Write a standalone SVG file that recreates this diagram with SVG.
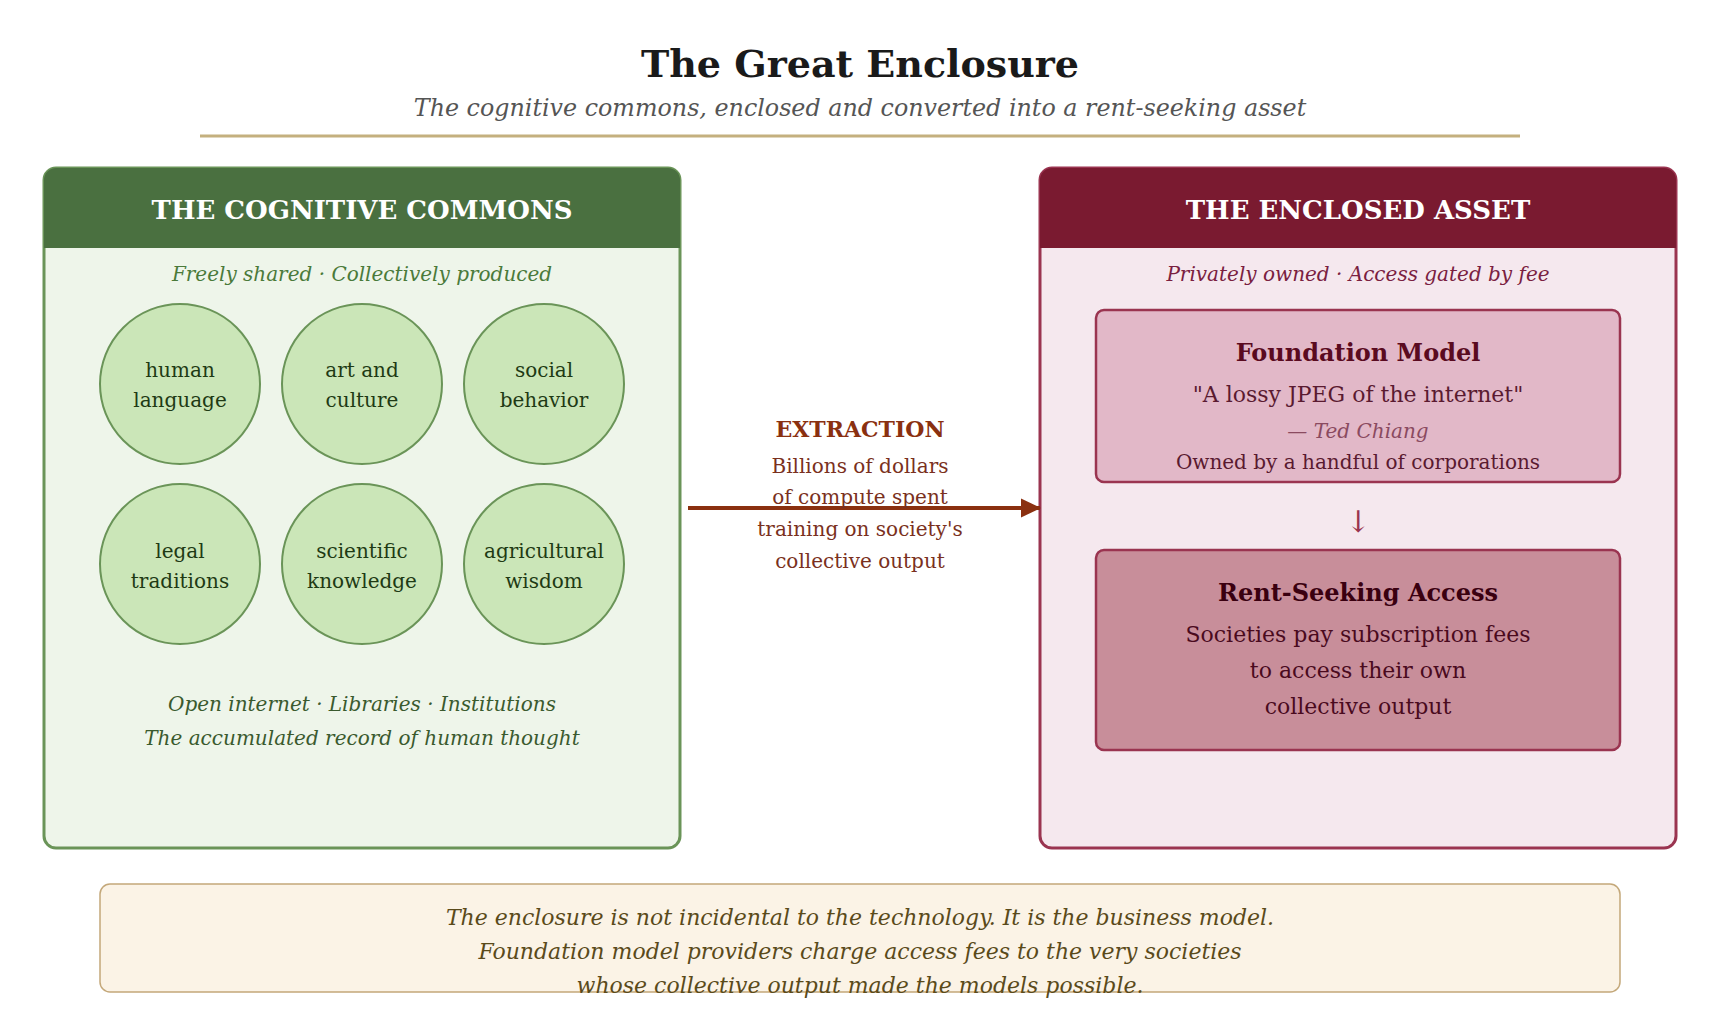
<svg xmlns="http://www.w3.org/2000/svg" width="1720" height="1009" viewBox="0 0 1720 1009">
<style>
text{font-family:"DejaVu Serif","Liberation Serif",serif;text-anchor:middle}
.it{font-style:italic}
.b{font-weight:bold}
.circ{fill:#cbe6b8;stroke:#6a9458;stroke-width:2}
.ct{font-size:20px;fill:#1e3a14}
</style>
<defs>
<marker id="ah" markerWidth="20" markerHeight="20" refX="19" refY="10" orient="auto" markerUnits="userSpaceOnUse" viewBox="0 0 20 20">
<path d="M0,0.5 L20,10 L0,19.5 z" fill="#8a3010"/>
</marker>
</defs>
<rect width="1720" height="1009" fill="#ffffff"/>
<g id="title">
<text x="860" y="77" class="b" style="font-size:38px;fill:#1a1a1a">The Great Enclosure</text>
<text x="860" y="116" class="it" style="font-size:23.8px;fill:#555555">The cognitive commons, enclosed and converted into a rent-seeking asset</text>
<line x1="200" y1="136" x2="1520" y2="136" stroke="#c4b07e" stroke-width="3"/>
</g>
<g id="commons">
<rect x="44" y="168" width="636" height="680" rx="12" fill="#eef5ea" stroke="#6a9458" stroke-width="3"/>
<path d="M44,248 V180 A12,12 0 0 1 56,168 H668 A12,12 0 0 1 680,180 V248 Z" fill="#4a7040"/>
<text x="362" y="219" class="b" style="font-size:26px;fill:#ffffff">THE COGNITIVE COMMONS</text>
<text x="362" y="281" class="it" style="font-size:20px;fill:#4a7a3a">Freely shared · Collectively produced</text>
<text x="362" y="711" class="it" style="font-size:20px;fill:#3a5a2e">Open internet · Libraries · Institutions</text>
<text x="362" y="745" class="it" style="font-size:20px;fill:#3a5a2e">The accumulated record of human thought</text>
</g>
<g id="c1"><circle cx="180" cy="384" r="80" class="circ"/><text x="180" y="377" class="ct">human</text><text x="180" y="407" class="ct">language</text></g>
<g id="c2"><circle cx="362" cy="384" r="80" class="circ"/><text x="362" y="377" class="ct">art and</text><text x="362" y="407" class="ct">culture</text></g>
<g id="c3"><circle cx="544" cy="384" r="80" class="circ"/><text x="544" y="377" class="ct">social</text><text x="544" y="407" class="ct">behavior</text></g>
<g id="c4"><circle cx="180" cy="564" r="80" class="circ"/><text x="180" y="558" class="ct">legal</text><text x="180" y="588" class="ct">traditions</text></g>
<g id="c5"><circle cx="362" cy="564" r="80" class="circ"/><text x="362" y="558" class="ct">scientific</text><text x="362" y="588" class="ct">knowledge</text></g>
<g id="c6"><circle cx="544" cy="564" r="80" class="circ"/><text x="544" y="558" class="ct">agricultural</text><text x="544" y="588" class="ct">wisdom</text></g>
<g id="asset">
<rect x="1040" y="168" width="636" height="680" rx="12" fill="#f5e8ee" stroke="#9a3450" stroke-width="3"/>
<path d="M1040,248 V180 A12,12 0 0 1 1052,168 H1664 A12,12 0 0 1 1676,180 V248 Z" fill="#7a1a30"/>
<text x="1358" y="219" class="b" style="font-size:26px;fill:#ffffff">THE ENCLOSED ASSET</text>
<text x="1358" y="281" class="it" style="font-size:20px;fill:#7a2040">Privately owned · Access gated by fee</text>
<text x="1358" y="532" style="font-size:30px;fill:#9a3450">↓</text>
</g>
<g id="foundation">
<rect x="1096" y="310" width="524" height="172" rx="8" fill="#e2b8c8" stroke="#9a3450" stroke-width="2.5"/>
<text x="1358" y="361" class="b" style="font-size:24px;fill:#5a0a20">Foundation Model</text>
<text x="1358" y="402" style="font-size:22px;fill:#5a1a30">"A lossy JPEG of the internet"</text>
<text x="1358" y="438" class="it" style="font-size:20px;fill:#8a4a60">— Ted Chiang</text>
<text x="1358" y="469" style="font-size:20px;fill:#5a1a30">Owned by a handful of corporations</text>
</g>
<g id="rent">
<rect x="1096" y="550" width="524" height="200" rx="8" fill="#c88e9a" stroke="#9a3450" stroke-width="2.5"/>
<text x="1358" y="601" class="b" style="font-size:24px;fill:#3a0010">Rent-Seeking Access</text>
<text x="1358" y="642" style="font-size:22px;fill:#4a0a1e">Societies pay subscription fees</text>
<text x="1358" y="678" style="font-size:22px;fill:#4a0a1e">to access their own</text>
<text x="1358" y="714" style="font-size:22px;fill:#4a0a1e">collective output</text>
</g>
<g id="connectors">
<line x1="688" y1="508" x2="1040" y2="508" stroke="#8a3010" stroke-width="4" marker-end="url(#ah)"/>
</g>
<g id="extraction">
<text x="860" y="437" class="b" style="font-size:22px;fill:#8a3010">EXTRACTION</text>
<text x="860" y="473" style="font-size:20px;fill:#7a3020">Billions of dollars</text>
<text x="860" y="504" style="font-size:20px;fill:#7a3020">of compute spent</text>
<text x="860" y="536" style="font-size:20px;fill:#7a3020">training on society's</text>
<text x="860" y="568" style="font-size:20px;fill:#7a3020">collective output</text>
</g>
<g id="footer">
<rect x="100" y="884" width="1520" height="108" rx="10" fill="#fbf3e6" stroke="#c4a87a" stroke-width="1.5"/>
<text x="860" y="925" class="it" style="font-size:22px;fill:#5a4a1a">The enclosure is not incidental to the technology. It is the business model.</text>
<text x="860" y="959" class="it" style="font-size:22px;fill:#5a4a1a">Foundation model providers charge access fees to the very societies</text>
<text x="860" y="993" class="it" style="font-size:22px;fill:#5a4a1a">whose collective output made the models possible.</text>
</g>
</svg>
